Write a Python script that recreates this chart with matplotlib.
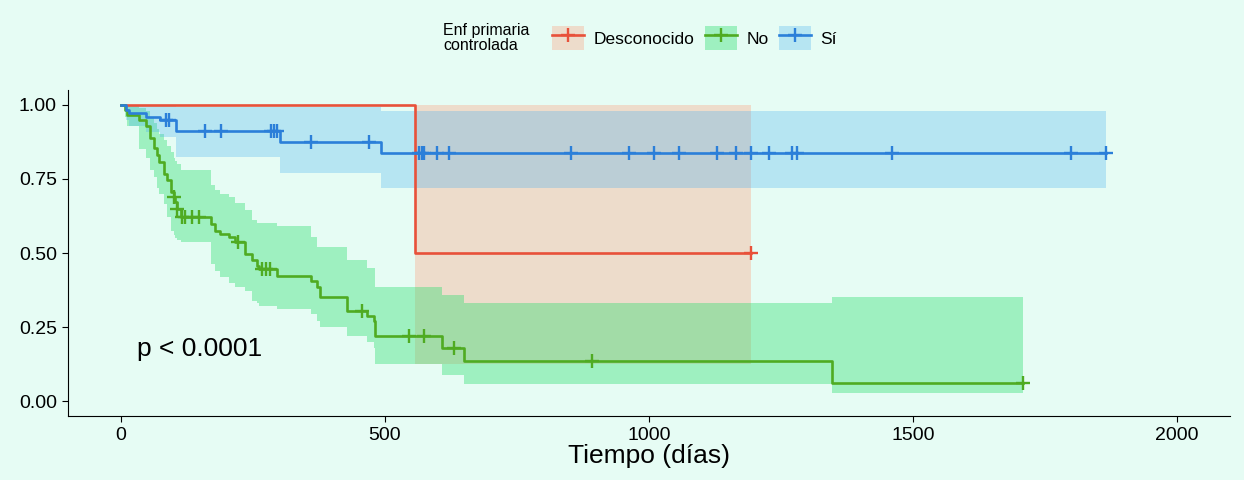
import numpy as np
import matplotlib.pyplot as plt
from matplotlib.patches import Patch
from matplotlib.lines import Line2D

plt.rcParams['font.family'] = ['Liberation Sans', 'DejaVu Sans']

bg = "#E6FCF4"

# Desconocido
desc_t = [0, 557]
desc_s = [1.0, 0.5]
desc_lo = [1.0, 0.125]
desc_hi = [1.0, 1.0]
desc_end = 1193
desc_cens = [1193]

# No
no_t = [0, 8, 12, 35, 47, 56, 62, 68, 72, 81, 88, 94, 100, 103, 106, 113,
        170, 178, 188, 205, 217, 235, 248, 258, 262, 296, 360, 372, 378,
        428, 466, 479, 482, 608, 650, 1347]
no_s = [1.0, 0.983, 0.966, 0.949, 0.927, 0.887, 0.853, 0.83, 0.808, 0.768,
        0.746, 0.706, 0.69, 0.672, 0.65, 0.621, 0.599, 0.576, 0.566, 0.554,
        0.537, 0.497, 0.475, 0.458, 0.446, 0.424, 0.407, 0.384, 0.353,
        0.305, 0.288, 0.271, 0.22, 0.18, 0.136, 0.062]
no_lo = [1.0, 0.96, 0.93, 0.85, 0.82, 0.78, 0.757, 0.72, 0.70, 0.667,
         0.62, 0.576, 0.56, 0.55, 0.545, 0.537, 0.463, 0.44, 0.418, 0.40,
         0.385, 0.373, 0.339, 0.33, 0.32, 0.31, 0.295, 0.27, 0.25,
         0.22, 0.20, 0.18, 0.125, 0.09, 0.058, 0.028]
no_hi = [1.0, 1.0, 1.0, 0.99, 0.98, 0.96, 0.94, 0.92, 0.90, 0.88,
         0.86, 0.84, 0.82, 0.81, 0.80, 0.78, 0.73, 0.712, 0.70, 0.69,
         0.67, 0.644, 0.61, 0.60, 0.60, 0.59, 0.554, 0.52, 0.52,
         0.475, 0.45, 0.45, 0.384, 0.36, 0.333, 0.353]
no_end = 1708
no_cens = [100, 106, 116, 122, 135, 148, 222, 267, 275, 283, 457,
           545, 574, 631, 892, 1708]

# Sí
si_t = [0, 9, 15, 47, 75, 104, 302, 492]
si_s = [1.0, 0.983, 0.972, 0.96, 0.949, 0.912, 0.876, 0.838]
si_lo = [1.0, 0.95, 0.93, 0.91, 0.89, 0.825, 0.77, 0.718]
si_hi = [1.0, 1.0, 1.0, 1.0, 1.0, 0.994, 0.994, 0.978]
si_end = 1866
si_cens = [85, 91, 160, 189, 284, 290, 295, 360, 470, 564, 570, 574, 599,
           621, 852, 962, 1009, 1057, 1129, 1164, 1193, 1227, 1271, 1280,
           1460, 1799, 1866]

groups = [
    ("Desconocido", desc_t, desc_s, desc_lo, desc_hi, desc_end, desc_cens,
     "#E8513A", "#FF956F", 0.3),
    ("No", no_t, no_s, no_lo, no_hi, no_end, no_cens,
     "#4FAB22", "#32DE72", 0.4),
    ("Sí", si_t, si_s, si_lo, si_hi, si_end, si_cens,
     "#2B7FD9", "#4AB0F0", 0.3),
]

fig = plt.figure(figsize=(12.44, 4.8), dpi=100, facecolor=bg)
ax = fig.add_axes([0.0547, 0.133, 0.934, 0.6795], facecolor=bg)

for name, t, s, lo, hi, end, cens, lc, fc, a in groups:
    tt = np.append(t, end)
    ax.fill_between(tt, np.append(lo, lo[-1]), np.append(hi, hi[-1]),
                    step="post", color=fc, alpha=a, linewidth=0)

handles = []
for name, t, s, lo, hi, end, cens, lc, fc, a in groups:
    tt = np.append(t, end)
    ss = np.append(s, s[-1])
    ax.step(tt, ss, where="post", color=lc, lw=1.9)
    idx = np.searchsorted(t, cens, side="right") - 1
    ax.plot(cens, np.array(s)[idx], ls="none", marker="+", ms=10, mew=1.7,
            color=lc)
    handles.append((Patch(facecolor=fc, alpha=a, edgecolor="none"),
                    Line2D([], [], color=lc, lw=1.9, marker="+", ms=10, mew=1.7)))

ax.text(30, 0.175, "p < 0.0001", fontsize=19, ha="left", va="center")

ax.set_xlim(-100, 2100)
ax.set_ylim(-0.05, 1.05)
ax.set_xticks([0, 500, 1000, 1500, 2000])
ax.set_yticks([0, 0.25, 0.5, 0.75, 1.0])
ax.set_yticklabels(["0.00", "0.25", "0.50", "0.75", "1.00"])
ax.tick_params(labelsize=14, length=4, width=0.8, colors="black", pad=4)
ax.spines["top"].set_visible(False)
ax.spines["right"].set_visible(False)
ax.set_xlabel("Tiempo (días)", fontsize=19, labelpad=0)

fig.text(443 / 1244, 1 - 38 / 480, "Enf primaria\ncontrolada", fontsize=11.5,
         ha="left", va="center", linespacing=1.05)
fig.legend(handles, [g[0] for g in groups], ncol=3, frameon=False,
           loc="center left", bbox_to_anchor=(536 / 1244, 1 - 38 / 480),
           fontsize=12.5, handlelength=1.85, handleheight=1.7,
           columnspacing=0.6, handletextpad=0.55)

fig.savefig("out.png", dpi=100, facecolor=bg)
